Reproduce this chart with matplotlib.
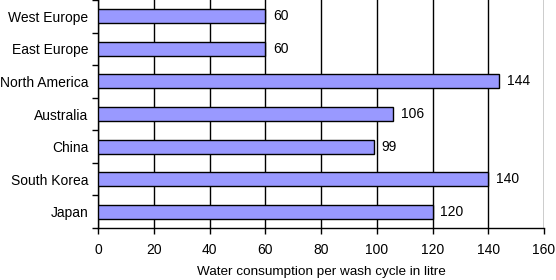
import numpy as np
import matplotlib
matplotlib.use("Agg")
import matplotlib.pyplot as plt

regions = ["West Europe", "East Europe", "North America", "Australia", "China", "South Korea", "Japan"]
litres = [60, 60, 144, 106, 99, 140, 120]
xticks = [0, 20, 40, 60, 80, 100, 120, 140, 160]

plt.rcParams["font.family"] = ["Liberation Sans", "DejaVu Sans"]
plt.rcParams["font.size"] = 10

fig = plt.figure(figsize=(5.56, 2.80), dpi=100)
ax = fig.add_axes([98 / 556, 52 / 280, 446 / 556, 228 / 280])

y = np.arange(len(regions))[::-1]
ax.barh(y, litres, height=0.43, color="#9999ff", edgecolor="black", linewidth=1.0, zorder=3)
for yi, v in zip(y, litres):
    ax.text(v + 2.8, yi, str(v), va="center", ha="left", fontsize=10)

ax.set_xlim(0, 160)
ax.set_ylim(-0.5, len(regions) - 0.5)
ax.set_xticks(xticks)
ax.set_yticks(y)
ax.set_yticklabels(regions)
ax.set_yticks(np.arange(-0.5, len(regions), 1), minor=True)
ax.tick_params(axis="y", which="major", length=0, pad=7)
ax.tick_params(axis="y", which="minor", length=4, width=1, direction="out")
ax.tick_params(axis="x", length=4, width=1, direction="out", pad=7)
ax.xaxis.grid(True, color="black", linewidth=1.0, zorder=0)
ax.set_axisbelow(True)
for s in ["top", "right"]:
    ax.spines[s].set_visible(False)
ax.spines["left"].set_linewidth(1.0)
ax.spines["bottom"].set_linewidth(1.0)
ax.set_xlabel("Water consumption per wash cycle in litre", labelpad=6, fontsize=9.7)

fig.savefig("out.png", dpi=100)
